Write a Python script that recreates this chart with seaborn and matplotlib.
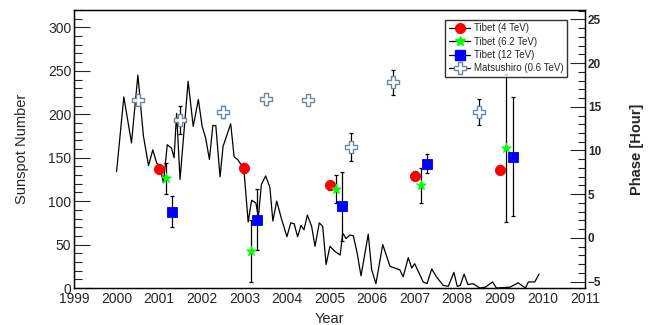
import numpy as np
import pandas as pd
import matplotlib
matplotlib.use("Agg")
import matplotlib.pyplot as plt
from matplotlib.lines import Line2D
from matplotlib.ticker import MultipleLocator
import seaborn as sns

# sunspot number
ss_year = [2000.00, 2000.17, 2000.35, 2000.50, 2000.63, 2000.75, 2000.85, 2000.94, 2001.02, 2001.10,
           2001.19, 2001.29, 2001.35, 2001.41, 2001.49, 2001.68, 2001.80, 2001.92, 2002.01, 2002.09,
           2002.18, 2002.26, 2002.33, 2002.43, 2002.50, 2002.68, 2002.76, 2002.84, 2002.94, 2003.00,
           2003.09, 2003.17, 2003.27, 2003.33, 2003.40, 2003.50, 2003.60, 2003.67, 2003.76, 2003.87,
           2004.00, 2004.09, 2004.17, 2004.25, 2004.33, 2004.40, 2004.48, 2004.58, 2004.66, 2004.76,
           2004.84, 2004.92, 2005.01, 2005.13, 2005.25, 2005.31, 2005.39, 2005.48, 2005.56, 2005.65,
           2005.74, 2005.91, 2005.99, 2006.09, 2006.25, 2006.42, 2006.53, 2006.65, 2006.73, 2006.85,
           2006.93, 2007.00, 2007.20, 2007.29, 2007.40, 2007.51, 2007.67, 2007.79, 2007.92, 2008.00,
           2008.07, 2008.16, 2008.25, 2008.37, 2008.53, 2008.66, 2008.83, 2008.92, 2009.24, 2009.43,
           2009.60, 2009.67, 2009.82, 2009.92]
ss_value = [134, 220, 167, 245, 175, 141, 159, 144, 140, 121,
            165, 161, 150, 201, 125, 238, 186, 217, 186, 173,
            148, 187, 187, 128, 163, 189, 151, 148, 141, 130,
            76, 101, 98, 82, 119, 129, 116, 77, 100, 80,
            59, 75, 74, 59, 72, 67, 84, 71, 48, 75,
            71, 27, 48, 42, 38, 63, 57, 61, 60, 40,
            14, 62, 21, 5, 50, 25, 23, 21, 13, 35,
            23, 28, 7, 5, 22, 13, 3, 2, 18, 2,
            3, 16, 4, 5, 0, 1, 7, 0, 1, 6,
            0, 7, 7, 16]

# phases [hour]
t4_year = [2001.0, 2003.0, 2005.0, 2007.0, 2009.0]
t4_phase = [7.9, 8.0, 6.0, 7.1, 7.8]
t4_err = [0.5, 0.6, 0.5, 0.5, 0.5]

t62_year = [2001.15, 2003.15, 2005.15, 2007.15, 2009.15]
t62_phase = [6.8, -1.5, 5.6, 6.0, 10.3]
t62_err = [1.8, 3.5, 1.6, 2.0, 8.5]

t12_year = [2001.3, 2003.3, 2005.3, 2007.3, 2009.3]
t12_phase = [3.0, 2.1, 3.6, 8.5, 9.3]
t12_err = [1.8, 3.5, 3.9, 1.1, 6.8]

mat_year = [2000.5, 2001.5, 2002.5, 2003.5, 2004.5, 2005.5, 2006.5, 2008.5]
mat_phase = [15.8, 13.5, 14.4, 15.85, 15.8, 10.4, 17.8, 14.4]
mat_err = [0.6, 1.6, 0.7, 0.6, 0.6, 1.6, 1.4, 1.5]

sns.set_style("white")
plt.rcParams['font.family'] = ['Liberation Sans', 'DejaVu Sans']

fig = plt.figure(figsize=(6.56, 3.25), dpi=100)
ax = fig.add_axes([0.1128, 0.1138, 0.7790, 0.8554])

df = pd.DataFrame({"year": ss_year, "sunspot": ss_value})
sns.lineplot(data=df, x="year", y="sunspot", color="black", linewidth=0.9, ax=ax)

ax.set_xlim(1999, 2011)
ax.set_ylim(0, 320)
ax.xaxis.set_major_locator(MultipleLocator(1))
ax.yaxis.set_major_locator(MultipleLocator(50))
ax.yaxis.set_minor_locator(MultipleLocator(10))
ax.tick_params(axis='y', which='major', direction='in', length=11.5, width=0.8, labelsize=10, pad=2)
ax.tick_params(axis='y', which='minor', direction='in', length=5.5, width=0.8)
ax.tick_params(axis='x', which='major', direction='in', length=6, width=0.8, labelsize=10, pad=3)
ax.set_xlabel("Year", fontsize=10.5)
ax.set_ylabel("Sunspot Number", fontsize=10.5)
ax.xaxis.set_label_coords(0.5, -0.085)
ax.yaxis.set_label_coords(-0.088, 0.5)
for s in ax.spines.values():
    s.set_color("black")
    s.set_linewidth(0.9)

ax2 = ax.twinx()
ax2.set_ylim(-5.72, 26.06)

ebkw = dict(fmt='none', ecolor='black', elinewidth=0.9, capsize=1.5, capthick=0.9)
ax2.errorbar(mat_year, mat_phase, yerr=mat_err, **ebkw)
ax2.errorbar(t4_year, t4_phase, yerr=t4_err, **ebkw)
ax2.errorbar(t62_year, t62_phase, yerr=t62_err, **ebkw)
ax2.errorbar(t12_year, t12_phase, yerr=t12_err, **ebkw)

sns.scatterplot(x=mat_year, y=mat_phase, marker='P', s=75, color='white',
                edgecolor='#6f86a0', linewidth=1.0, ax=ax2, zorder=3)
sns.scatterplot(x=t4_year, y=t4_phase, marker='o', s=55, color='#ff0000',
                edgecolor='#ff0000', ax=ax2, zorder=3)
sns.scatterplot(x=t62_year, y=t62_phase, marker='*', s=55, color='#00ff00',
                edgecolor='#00ff00', ax=ax2, zorder=3)
sns.scatterplot(x=t12_year, y=t12_phase, marker='s', s=60, color='#0000ff',
                edgecolor='#0000ff', ax=ax2, zorder=3)

ax2.yaxis.set_major_locator(MultipleLocator(5))
ax2.yaxis.set_minor_locator(MultipleLocator(1))
ax2.tick_params(axis='y', which='major', direction='in', length=11, width=0.8, labelsize=8.5, pad=2)
ax2.tick_params(axis='y', which='minor', direction='in', length=5, width=0.8)
for lab in ax2.get_yticklabels():
    lab.set_fontweight('bold')
ax2.set_ylabel("Phase [Hour]", fontsize=10.5, fontweight='bold')
ax2.yaxis.set_label_coords(1.088, 0.5)
for s in ax2.spines.values():
    s.set_color("black")
    s.set_linewidth(0.9)

handles = [
    Line2D([], [], color='black', lw=0.9, marker='o', markersize=7, markerfacecolor='#ff0000', markeredgecolor='#ff0000'),
    Line2D([], [], color='black', lw=0.9, marker='*', markersize=7, markerfacecolor='#00ff00', markeredgecolor='#00ff00'),
    Line2D([], [], color='black', lw=0.9, marker='s', markersize=7, markerfacecolor='#0000ff', markeredgecolor='#0000ff'),
    Line2D([], [], color='black', lw=0.9, marker='P', markersize=8, markerfacecolor='white', markeredgecolor='#6f86a0'),
]
labels = ["Tibet (4 TeV)", "Tibet (6.2 TeV)", "Tibet (12 TeV)", "Matsushiro (0.6 TeV)"]
leg = ax2.legend(handles, labels, loc='upper right', bbox_to_anchor=(0.965, 0.965),
                 fontsize=7, frameon=True, fancybox=False, edgecolor='black',
                 handlelength=2.2, handletextpad=0.4, labelspacing=0.35,
                 borderpad=0.35, borderaxespad=0)
leg.get_frame().set_linewidth(1.0)
leg.set_zorder(5)

fig.savefig("out.png", dpi=100)
